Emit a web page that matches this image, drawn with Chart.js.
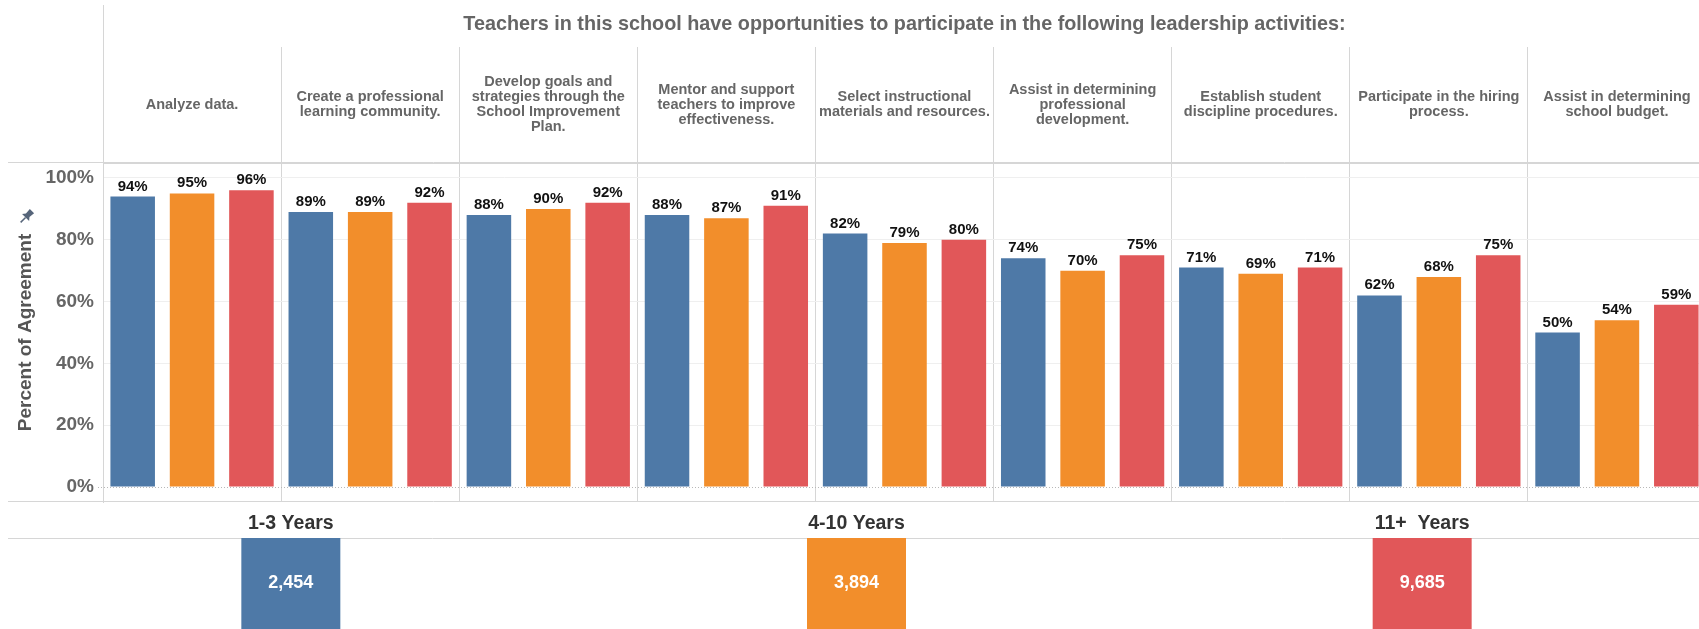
<!DOCTYPE html>
<html>
<head>
<meta charset="utf-8">
<title>Leadership activities</title>
<script src="https://cdn.jsdelivr.net/npm/chart.js@4.4.1/dist/chart.umd.min.js"></script>
<style>
  html, body { margin: 0; padding: 0; background: #fff; overflow: hidden; }
  #agreeChart { position: absolute; left: 0; top: 0; }
  #countChart { position: absolute; left: 0; top: 500px; }
</style>
</head>
<body>
<canvas id="agreeChart" width="1710" height="510"></canvas>
<canvas id="countChart" width="1710" height="129"></canvas>
<script>
// data
var activities = [
  ['Analyze data.'],
  ['Create a professional', 'learning community.'],
  ['Develop goals and', 'strategies through the', 'School Improvement', 'Plan.'],
  ['Mentor and support', 'teachers to improve', 'effectiveness.'],
  ['Select instructional', 'materials and resources.'],
  ['Assist in determining', 'professional', 'development.'],
  ['Establish student', 'discipline procedures.'],
  ['Participate in the hiring', 'process.'],
  ['Assist in determining', 'school budget.']
];
var years = ['1-3 Years', '4-10 Years', '11+  Years'];
var pct1to3 = [94, 89, 88, 88, 82, 74, 71, 62, 50];
var pct4to10 = [95, 89, 90, 87, 79, 70, 69, 68, 54];
var pct11plus = [96, 92, 92, 91, 80, 75, 71, 75, 59];
var respondents = [2454, 3894, 9685];
var yTicks = [0, 20, 40, 60, 80, 100];
var colors = ['#4e79a7', '#f28e2b', '#e15759'];

Chart.defaults.font.family = "'Liberation Sans', Arial, sans-serif";
Chart.defaults.animation = false;

var lineColor = '#d6d6d6';

// value labels above the bars
var barLabels = {
  id: 'barLabels',
  afterDatasetsDraw: function (chart) {
    var ctx = chart.ctx;
    ctx.save();
    ctx.font = 'bold 15px "Liberation Sans", Arial, sans-serif';
    ctx.fillStyle = '#111';
    ctx.textAlign = 'center';
    ctx.textBaseline = 'alphabetic';
    chart.data.datasets.forEach(function (ds, i) {
      chart.getDatasetMeta(i).data.forEach(function (bar, j) {
        ctx.fillText(ds.data[j] + '%', bar.x, bar.y - 6);
      });
    });
    ctx.restore();
  }
};

// tableau-like frame lines, baseline and pin
var frame = {
  id: 'frame',
  afterDraw: function (chart) {
    var ctx = chart.ctx;
    var a = chart.chartArea;
    var y0 = chart.scales.y.getPixelForValue(0);
    ctx.save();
    ctx.strokeStyle = lineColor;
    ctx.lineWidth = 1;
    ctx.beginPath();
    ctx.moveTo(8, Math.round(a.top) - 0.5);
    ctx.lineTo(chart.width, Math.round(a.top) - 0.5);
    ctx.moveTo(8, Math.round(a.bottom) - 0.5);
    ctx.lineTo(chart.width, Math.round(a.bottom) - 0.5);
    ctx.moveTo(Math.round(a.left) + 0.5, 5);
    ctx.lineTo(Math.round(a.left) + 0.5, 47);
    ctx.stroke();
    ctx.strokeStyle = '#b8b8b8';
    ctx.setLineDash([1, 2]);
    ctx.beginPath();
    ctx.moveTo(a.left - 5, Math.round(y0) + 0.5);
    ctx.lineTo(a.right, Math.round(y0) + 0.5);
    ctx.stroke();
    ctx.setLineDash([]);
    // pin next to axis title
    ctx.translate(27, 216);
    ctx.rotate(Math.PI / 4);
    ctx.fillStyle = '#56657a';
    ctx.beginPath();
    ctx.moveTo(-3, -7);
    ctx.lineTo(3, -7);
    ctx.lineTo(2.5, -1);
    ctx.lineTo(5, 2);
    ctx.lineTo(-5, 2);
    ctx.lineTo(-2.5, -1);
    ctx.closePath();
    ctx.fill();
    ctx.fillRect(-0.75, 2, 1.5, 7);
    ctx.restore();
  }
};

var agreeChart = new Chart(document.getElementById('agreeChart').getContext('2d'), {
  type: 'bar',
  data: {
    labels: activities,
    datasets: [
      { label: years[0], data: pct1to3, backgroundColor: colors[0] },
      { label: years[1], data: pct4to10, backgroundColor: colors[1] },
      { label: years[2], data: pct11plus, backgroundColor: colors[2] }
    ]
  },
  options: {
    responsive: false,
    layout: { padding: { left: 0, right: 4, top: 0, bottom: 8 } },
    datasets: { bar: { categoryPercentage: 1, barPercentage: 0.75 } },
    plugins: { legend: { display: false }, tooltip: { enabled: false } },
    scales: {
      x: {
        position: 'top',
        offset: true,
        grid: { offset: true, color: lineColor, tickLength: 116 },
        border: { color: lineColor },
        ticks: {
          autoSkip: false, maxRotation: 0, minRotation: 0,
          crossAlign: 'center', padding: -80.2, color: '#666',
          font: { size: 14.5, weight: 'bold', lineHeight: 1.03 }
        },
        title: {
          display: true,
          text: 'Teachers in this school have opportunities to participate in the following leadership activities:',
          color: '#666',
          font: { size: 19.8, weight: 'bold' },
          padding: { top: 13, bottom: 0 }
        },
        afterFit: function (s) { s.height = 163; s.paddingLeft = 0; s.paddingRight = 0; }
      },
      y: {
        min: -4.85,
        max: 104.85,
        afterBuildTicks: function (s) { s.ticks = yTicks.map(function (v) { return { value: v }; }); },
        grid: {
          drawTicks: false,
          color: function (c) { return c.tick && c.tick.value === 0 ? 'rgba(0,0,0,0)' : '#efefef'; }
        },
        border: { color: lineColor },
        ticks: {
          padding: 9, color: '#666',
          font: { size: 19, weight: 'bold' },
          callback: function (v) { return v + '%'; }
        },
        title: {
          display: true, text: 'Percent of Agreement', color: '#555',
          font: { size: 19, weight: 'bold' },
          padding: { top: 14.6, bottom: 0 }
        },
        afterFit: function (s) { s.width = 103; s.paddingTop = 0; s.paddingBottom = 0; }
      }
    }
  },
  plugins: [barLabels, frame]
});

// respondent counts per experience group
var countLabels = {
  id: 'countLabels',
  afterDatasetsDraw: function (chart) {
    var ctx = chart.ctx;
    ctx.save();
    ctx.font = 'bold 18px "Liberation Sans", Arial, sans-serif';
    ctx.fillStyle = '#fff';
    ctx.textAlign = 'center';
    ctx.textBaseline = 'middle';
    chart.getDatasetMeta(0).data.forEach(function (bar, j) {
      ctx.fillText(respondents[j].toLocaleString('en-US'), bar.x, 83);
    });
    ctx.restore();
  }
};

var countChart = new Chart(document.getElementById('countChart').getContext('2d'), {
  type: 'bar',
  data: {
    labels: years,
    datasets: [{
      data: respondents.map(function () { return 1; }),
      backgroundColor: colors,
      categoryPercentage: 1,
      barPercentage: 0.175
    }]
  },
  options: {
    responsive: false,
    layout: { padding: { left: 8, right: 5, top: 0, bottom: 0 } },
    plugins: { legend: { display: false }, tooltip: { enabled: false } },
    scales: {
      x: {
        position: 'top',
        grid: { display: false, drawTicks: false },
        border: { display: true, color: lineColor },
        ticks: { padding: 2.3, color: '#333', font: { size: 19.5, weight: 'bold' } },
        afterFit: function (s) { s.height = 38; s.paddingLeft = 0; s.paddingRight = 0; }
      },
      y: { display: false, min: 0, max: 1 }
    }
  },
  plugins: [countLabels]
});
</script>
</body>
</html>
